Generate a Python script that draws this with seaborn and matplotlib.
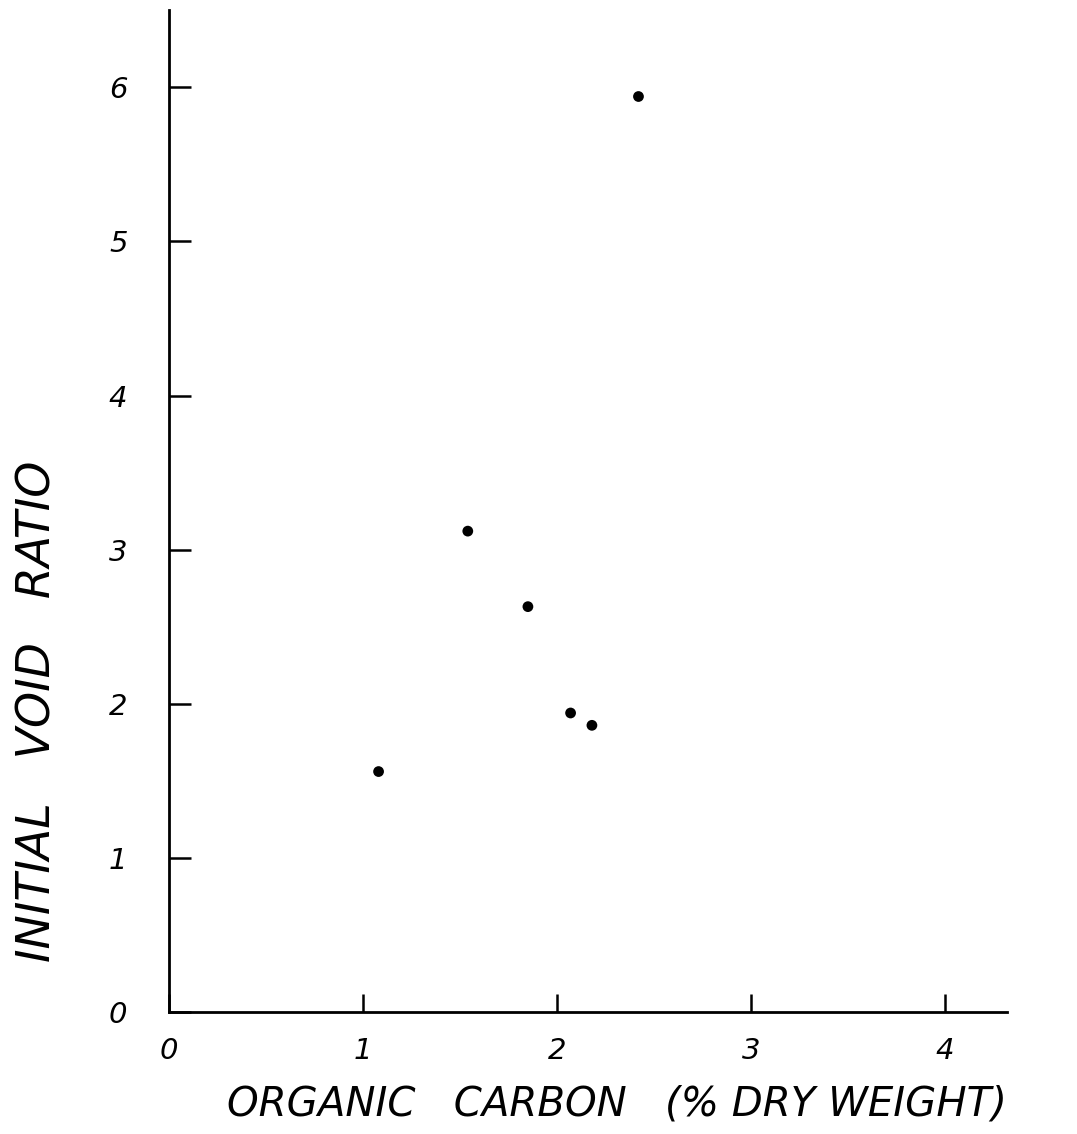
import matplotlib
matplotlib.use("Agg")
import matplotlib.pyplot as plt
import seaborn as sns
import pandas as pd

# Data
organic_carbon = [1.08, 1.54, 1.85, 2.07, 2.18, 2.42]
void_ratio = [1.56, 3.12, 2.63, 1.94, 1.86, 5.94]
x_ticks = [0, 1, 2, 3, 4]
y_ticks = [0, 1, 2, 3, 4, 5, 6]
x_label = "ORGANIC   CARBON   (% DRY WEIGHT)"
y_label = "INITIAL   VOID   RATIO"

df = pd.DataFrame({"oc": organic_carbon, "e0": void_ratio})

sns.set_style("ticks")
plt.rcParams["font.family"] = ["DejaVu Sans"]
plt.rcParams["text.color"] = "black"
plt.rcParams["axes.labelcolor"] = "black"
plt.rcParams["xtick.color"] = "black"
plt.rcParams["ytick.color"] = "black"

fig = plt.figure(figsize=(10.77, 11.34), dpi=100)
ax = fig.add_axes([0.157, 0.1076, 0.778, 0.8834])

sns.scatterplot(data=df, x="oc", y="e0", ax=ax, color="black", s=60,
                edgecolor="none", legend=False)

ax.set_xlim(0, 4.32)
ax.set_ylim(0, 6.5)
ax.set_xticks(x_ticks)
ax.set_yticks(y_ticks)
ax.set_xticklabels([str(t) for t in x_ticks], fontstyle="italic", fontsize=21)
ax.set_yticklabels([str(t) for t in y_ticks], fontstyle="italic", fontsize=21)

for side in ["top", "right"]:
    ax.spines[side].set_visible(False)
for side in ["left", "bottom"]:
    ax.spines[side].set_linewidth(2.0)
    ax.spines[side].set_color("black")

ax.tick_params(axis="y", direction="in", length=16, width=1.8, pad=30)
ax.tick_params(axis="x", direction="in", length=13, width=1.8, pad=18)

ax.set_xlabel(x_label, fontsize=29, fontstyle="italic", fontweight="light")
ax.set_ylabel(y_label, fontsize=33, fontstyle="italic", fontweight="light")
ax.xaxis.set_label_coords(0.535, -0.072)
ax.yaxis.set_label_coords(-0.130, 0.30)

fig.savefig("out.png", dpi=100, facecolor="white")
